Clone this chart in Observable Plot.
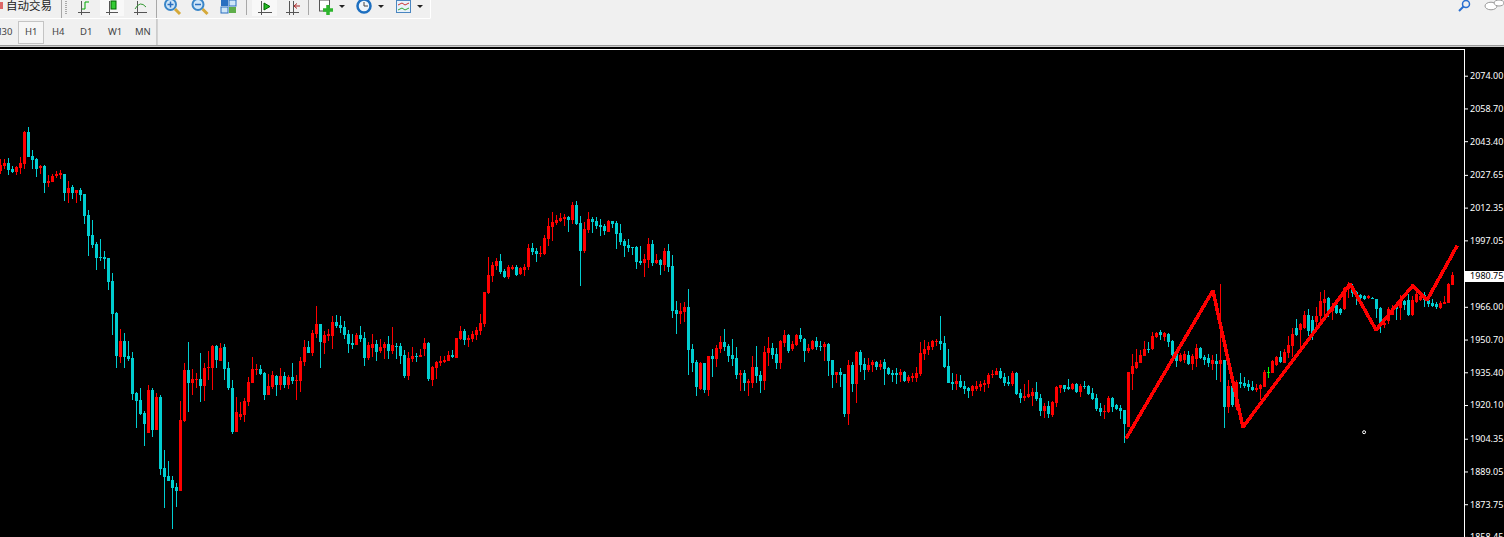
<!DOCTYPE html>
<html><head><meta charset="utf-8">
<script src="https://cdn.jsdelivr.net/npm/d3@7"></script>
<script src="https://cdn.jsdelivr.net/npm/@observablehq/plot@0.6"></script>
<style>
html,body{margin:0;padding:0;background:#000;width:1504px;height:537px;overflow:hidden}
#top{position:relative;width:1504px;height:47px;background:#f0f0f0;overflow:hidden;font-family:"Noto Sans",sans-serif;color:#444}
#top span{position:absolute;white-space:nowrap}
#top svg{position:absolute;left:0;top:0}
.tf{top:24px;font-size:9.5px;line-height:16px}
#chart svg{display:block}
</style></head><body>
<div id="top">
<svg width="1504" height="47" fill="none">
<path d="M0 18.5H430M430.5 0V18.5M157.5 19V45" stroke="#fff"/>
<path d="M61.5 0V18M156.5 0V18M246.5 0V15M308.5 0V15M157 19V45" stroke="#a8a8a8"/>
<path d="M66 1V15" stroke="#aaa" stroke-dasharray="1 1" stroke-width="2"/>
<rect x="18.5" y="21.5" width="25" height="22" fill="#f6f6f6" stroke="#c4c4c4"/>
<rect x="100" y="0" width="24" height="16" fill="#f8f8f8"/><rect x="252" y="0" width="25" height="16" fill="#f8f8f8"/>
<rect x="0" y="45" width="1504" height="1.4" fill="#9a9a9a"/>
<path d="M78 12.5H90M81.5 1V15M106 12.5H118M109.5 1V15M134 12.5H147M137.5 1V15M258 12.5H272M261.5 1V15M286 12.5H299M289.5 1V15M293.5 1V15" stroke="#555"/>
<path d="M82 9H85V2H89" stroke="#0a0"/><rect x="111" y="1" width="5" height="8" fill="#3c3" stroke="#060"/>
<path d="M135 9Q140 0 146 7" stroke="#393"/>
<path d="M264 3L270 6.5L264 10Z" fill="#2b2" stroke="#060"/><path d="M300 6H295M297 3.500L294 6L297 8.500" stroke="#a22"/>
<circle cx="170.500" cy="4.500" r="5.500" fill="#cfe6f8" stroke="#3a86c8" stroke-width="2"/><path d="M175 9L180 14" stroke="#d5a93a" stroke-width="3"/><path d="M167.500 4.500H173.500M170.500 1.500V7.500" stroke="#2a6fc0" stroke-width="1.500"/>
<circle cx="198" cy="4.500" r="5.500" fill="#cfe6f8" stroke="#3a86c8" stroke-width="2"/><path d="M202.500 9L207.500 14" stroke="#d5a93a" stroke-width="3"/><path d="M195 4.500H201" stroke="#2a6fc0" stroke-width="1.500"/>
<rect x="221" y="0" width="7" height="6" fill="#2a6fc0"/><rect x="229" y="0" width="7" height="6" fill="#cfe6f8" stroke="#2a6fc0"/><rect x="221" y="7" width="7" height="6" fill="#cfe6f8" stroke="#2a6fc0"/><rect x="229" y="7" width="7" height="6" fill="#5fae4a"/>
<rect x="319.500" y="0" width="10" height="11" fill="#fff" stroke="#555"/><path d="M328 5V15M323 10H333" stroke="#2db52d" stroke-width="3.500"/>
<path d="M339 5H345L342 8Z" fill="#222"/>
<circle cx="364" cy="6" r="6.500" fill="#eef5fb" stroke="#1d6fc0" stroke-width="2.500"/><path d="M364 2V6H368" stroke="#444"/>
<path d="M378 5H384L381 8Z" fill="#222"/>
<rect x="396.500" y="0.500" width="14" height="12" fill="#e8f1fa" stroke="#4a86c0"/><path d="M398 5L402 3L405 5L409 3" stroke="#c33"/><path d="M398 10L402 8L405 10L409 8" stroke="#3a3"/>
<path d="M417 5H423L420 8Z" fill="#222"/>
<circle cx="1466" cy="4" r="3.500" stroke="#2a6fd0" stroke-width="1.500"/><path d="M1463.500 6.500L1459 11" stroke="#2a6fd0" stroke-width="2"/>
<ellipse cx="1491" cy="6" rx="6" ry="3.800" fill="#fff" stroke="#999"/><ellipse cx="1499" cy="3" rx="5" ry="3" fill="#fff" stroke="#999"/>
<path d="M0 2H3V9H0" fill="#d66" />
</svg>
<span style="left:6px;top:-3px;font:11.500px/16px 'Noto Sans CJK SC',sans-serif;color:#1a1a1a">自动交易</span>
<span class="tf" style="left:-7px">M30</span><span class="tf" style="left:25px">H1</span><span class="tf" style="left:52px">H4</span><span class="tf" style="left:80px">D1</span><span class="tf" style="left:108px">W1</span><span class="tf" style="left:135px">MN</span>
</div>
<div id="chart"></div>
<script>
const high=[2034.6,2034.6,2035.4,2031.5,2031.5,2035.7,2047.9,2049.7,2039.0,2035.2,
2032.0,2032.0,2027.3,2027.8,2029.2,2029.6,2027.8,2024.5,2022.6,2020.3,
2021.2,2018.4,2010.9,2006.3,1996.0,1997.4,1991.8,1988.5,1981.5,1963.3,
1955.3,1953.4,1949.7,1944.6,1925.9,1927.7,1917.0,1929.1,1927.7,1925.4,
1924.5,1898.8,1893.6,1886.6,1883.3,1921.7,1939.4,1949.2,1936.6,1934.7,
1944.1,1939.4,1945.0,1947.8,1947.8,1948.8,1948.3,1939.9,1931.5,1923.5,
1921.2,1923.1,1932.9,1942.2,1939.0,1938.5,1935.2,1934.3,1935.7,1933.8,
1937.1,1935.2,1933.8,1939.4,1933.8,1942.2,1950.2,1949.7,1954.8,1966.0,
1957.6,1954.4,1955.3,1961.4,1961.8,1961.4,1959.0,1954.8,1952.9,1953.4,
1956.7,1953.9,1949.2,1952.9,1950.2,1950.6,1949.2,1952.0,1956.2,1948.7,
1948.7,1945.5,1944.5,1946.9,1944.1,1946.0,1951.1,1949.2,1938.0,1940.3,
1942.7,1942.7,1945.0,1945.5,1951.1,1956.7,1955.3,1952.5,1954.4,1956.2,
1962.3,1972.6,1989.0,1986.6,1988.5,1990.3,1983.3,1985.2,1985.2,1985.2,
1984.3,1985.7,1995.0,1995.5,1993.2,1994.1,1999.2,2007.2,2010.0,2008.6,
2009.5,2009.0,2008.1,2014.6,2015.1,2008.1,2005.3,2010.0,2007.6,2007.6,
2006.7,2004.4,2006.2,2005.8,2005.8,2004.4,1997.4,1997.4,1993.6,1994.1,
1994.1,1990.3,1997.8,1996.9,1990.3,1988.0,1993.2,1995.0,1989.9,1968.4,
1967.4,1967.9,1974.0,1948.3,1940.8,1939.9,1939.4,1942.7,1946.0,1947.8,
1952.0,1955.3,1948.3,1950.6,1946.9,1936.1,1936.1,1931.9,1942.7,1947.3,
1935.6,1947.3,1951.5,1948.7,1946.4,1950.2,1954.8,1953.0,1949.7,1953.0,
1955.8,1951.1,1948.3,1950.2,1951.6,1949.7,1949.2,1948.7,1940.8,1935.2,
1937.1,1934.3,1940.8,1939.9,1945.0,1945.5,1941.7,1941.7,1940.8,1940.3,
1940.8,1941.3,1937.5,1936.1,1937.1,1936.6,1935.7,1933.8,1934.7,1937.5,
1949.2,1950.2,1949.2,1950.2,1950.6,1961.4,1952.0,1945.9,1934.7,1934.3,
1933.8,1931.0,1928.2,1929.1,1931.0,1931.0,1931.5,1934.7,1936.1,1937.1,
1937.1,1934.7,1933.3,1935.7,1935.2,1927.3,1929.6,1931.5,1927.7,1930.5,
1924.9,1920.7,1921.6,1921.6,1928.7,1929.1,1929.1,1931.9,1930.1,1930.1,
1929.6,1931.0,1929.1,1927.7,1924.9,1920.7,1919.8,1924.0,1923.5,1920.2,
1919.8,1917.4,1935.2,1943.6,1945.9,1945.5,1949.7,1949.2,1953.9,1953.9,
1954.8,1953.9,1953.4,1950.2,1944.5,1944.1,1945.0,1945.0,1943.6,1948.3,
1946.9,1943.1,1943.6,1943.1,1943.6,1976.3,1940.8,1931.5,1929.1,1931.5,
1934.7,1932.9,1931.5,1931.0,1929.6,1929.6,1936.1,1937.5,1940.8,1942.7,
1945.0,1945.9,1952.0,1955.8,1960.0,1958.1,1963.7,1964.6,1961.4,1965.6,
1972.6,1973.5,1970.3,1967.4,1967.0,1965.1,1974.9,1977.3,1976.3,1973.1,
1971.7,1971.2,1971.2,1970.3,1969.3,1965.6,1959.5,1965.6,1966.5,1967.0,
1971.2,1968.8,1971.7,1970.7,1972.6,1971.2,1972.6,1969.8,1969.3,1967.9,
1968.4,1970.7,1976.8,1981.9];
const bodyTop=[2032.0,2032.9,2032.9,2030.1,2031.0,2032.9,2047.4,2047.4,2036.2,2034.8,
2031.5,2031.5,2024.5,2026.8,2027.8,2028.2,2027.8,2021.2,2021.7,2020.3,
2020.3,2018.4,2008.6,1999.2,1995.0,1989.0,1989.0,1988.5,1977.7,1962.8,
1949.7,1949.7,1942.7,1941.8,1925.4,1922.1,1916.1,1926.8,1926.8,1923.5,
1923.5,1890.3,1886.6,1884.7,1881.5,1912.8,1936.2,1936.2,1931.9,1931.9,
1931.9,1937.1,1937.6,1947.4,1947.4,1946.4,1946.9,1937.1,1927.7,1916.5,
1915.6,1921.7,1930.5,1936.6,1936.6,1936.6,1934.7,1928.7,1933.8,1933.3,
1933.3,1933.3,1932.9,1932.9,1931.5,1940.3,1946.9,1946.9,1953.4,1957.6,
1957.6,1952.5,1952.9,1958.6,1958.6,1957.2,1956.2,1952.9,1948.7,1952.5,
1952.5,1951.1,1947.8,1948.3,1948.3,1946.9,1948.3,1948.3,1947.8,1947.3,
1947.3,1943.1,1941.7,1942.7,1942.7,1943.1,1948.7,1948.7,1937.5,1939.9,
1940.3,1940.8,1943.1,1943.1,1951.1,1954.4,1954.4,1951.1,1952.9,1954.8,
1958.1,1972.6,1980.5,1985.2,1987.1,1987.1,1982.4,1984.3,1984.3,1984.3,
1983.8,1984.3,1993.2,1993.2,1991.8,1990.8,1997.8,2003.4,2005.3,2006.2,
2007.2,2007.6,2007.6,2013.3,2013.3,2004.8,2002.0,2006.7,2006.7,2005.8,
2003.9,2003.4,2005.8,2005.8,2004.8,2000.2,1996.4,1994.6,1993.6,1993.6,
1987.1,1988.0,1995.0,1995.0,1987.5,1987.5,1991.8,1991.8,1984.7,1964.2,
1963.7,1965.6,1965.6,1946.0,1939.9,1939.4,1939.4,1942.7,1942.7,1946.4,
1949.2,1949.2,1947.3,1943.1,1941.7,1934.7,1934.7,1931.0,1937.5,1937.5,
1933.8,1944.5,1946.4,1946.4,1943.6,1949.7,1952.5,1952.5,1948.3,1952.5,
1952.5,1950.6,1946.4,1949.7,1949.7,1947.4,1948.3,1948.3,1940.8,1935.2,
1935.2,1934.3,1938.5,1938.5,1944.5,1944.5,1938.9,1938.5,1939.9,1939.9,
1938.9,1939.9,1937.1,1934.7,1934.7,1935.2,1935.2,1932.9,1933.3,1934.7,
1944.1,1945.9,1947.4,1949.7,1949.7,1949.7,1948.8,1938.0,1930.5,1931.0,
1931.0,1928.7,1927.7,1928.7,1928.7,1929.6,1930.1,1933.8,1934.3,1935.7,
1935.7,1932.9,1930.5,1934.7,1934.7,1925.4,1924.0,1924.9,1925.9,1925.9,
1923.0,1919.3,1919.3,1921.2,1928.2,1929.1,1929.1,1928.2,1929.6,1929.6,
1928.7,1928.7,1928.7,1925.4,1923.0,1918.4,1917.0,1923.0,1923.0,1919.8,
1918.4,1917.4,1935.2,1938.0,1939.9,1943.1,1946.0,1946.0,1952.0,1953.4,
1953.9,1953.4,1953.0,1949.7,1943.6,1943.1,1943.6,1943.1,1942.7,1946.4,
1946.4,1942.2,1941.7,1940.8,1940.3,1940.8,1940.8,1928.7,1928.7,1930.5,
1930.5,1930.1,1929.6,1928.2,1927.7,1929.1,1935.2,1935.2,1940.3,1942.2,
1942.2,1944.5,1947.8,1953.0,1955.8,1957.6,1961.8,1961.8,1959.5,1961.4,
1968.4,1969.3,1969.8,1965.6,1966.5,1964.6,1974.5,1975.4,1974.5,1972.6,
1971.2,1970.7,1970.7,1969.8,1969.3,1965.1,1958.1,1964.6,1965.1,1966.5,
1967.9,1968.4,1968.8,1968.8,1971.7,1970.7,1971.2,1968.8,1967.4,1967.0,
1967.4,1967.9,1976.3,1980.5];
const bodyBottom=[2029.2,2031.7,2029.6,2028.7,2028.9,2030.6,2032.4,2035.7,2034.3,2030.1,
2030.6,2023.6,2023.6,2024.0,2026.8,2027.3,2018.9,2018.9,2018.9,2018.9,
2017.9,2008.1,1998.8,1994.6,1988.5,1988.5,1988.0,1977.3,1962.3,1942.7,
1942.2,1942.2,1941.3,1924.9,1921.7,1915.6,1910.9,1906.7,1908.1,1908.1,
1889.9,1886.1,1884.3,1881.0,1879.6,1879.6,1912.3,1930.1,1930.1,1931.5,
1928.7,1928.7,1937.1,1937.1,1940.8,1940.4,1936.6,1927.7,1907.2,1907.2,
1914.2,1915.1,1921.2,1930.1,1936.2,1934.3,1924.4,1924.4,1928.2,1929.1,
1929.1,1929.1,1929.1,1931.0,1931.0,1931.0,1939.9,1944.1,1944.1,1952.9,
1949.2,1948.7,1952.0,1952.0,1956.7,1955.8,1952.5,1948.3,1947.8,1947.8,
1950.6,1941.7,1941.7,1946.4,1944.5,1945.0,1946.4,1945.0,1945.0,1946.9,
1942.7,1933.3,1933.3,1941.3,1942.2,1942.2,1946.0,1932.0,1931.5,1937.1,
1939.4,1939.9,1940.3,1942.2,1941.7,1950.6,1950.2,1950.2,1950.6,1952.5,
1954.4,1957.6,1972.1,1980.1,1984.7,1981.9,1979.6,1979.6,1983.3,1980.5,
1981.0,1982.9,1984.3,1991.3,1990.3,1990.3,1990.3,1997.4,2003.0,2004.8,
2005.8,2006.7,2006.2,2006.2,2004.4,1991.8,1991.8,2001.6,2005.3,2003.4,
2003.0,2001.1,2000.6,2004.4,1999.7,1996.0,1994.1,1993.2,1993.2,1986.6,
1986.2,1986.2,1987.5,1986.2,1986.2,1985.2,1985.2,1984.3,1963.7,1962.3,
1962.3,1963.2,1945.5,1939.4,1928.2,1927.2,1926.8,1926.8,1941.3,1941.3,
1946.0,1946.9,1942.7,1941.3,1933.8,1933.8,1930.0,1930.0,1930.0,1933.3,
1931.0,1931.0,1944.1,1943.1,1939.4,1939.4,1948.8,1945.0,1945.9,1947.8,
1950.6,1945.0,1945.0,1945.9,1946.9,1946.9,1946.9,1940.3,1933.8,1933.8,
1933.8,1915.6,1915.6,1929.6,1929.6,1938.5,1936.1,1936.1,1938.5,1937.5,
1937.5,1936.6,1934.3,1933.8,1933.8,1933.8,1931.0,1931.0,1932.4,1932.4,
1934.3,1943.6,1945.5,1946.9,1949.2,1948.3,1937.5,1930.1,1929.6,1929.6,
1928.2,1927.3,1926.3,1926.3,1927.3,1928.2,1929.1,1929.6,1933.8,1933.8,
1932.4,1930.1,1929.6,1929.6,1924.9,1923.0,1923.0,1923.5,1924.0,1922.6,
1917.0,1917.0,1915.6,1915.1,1920.7,1927.7,1927.3,1927.3,1927.3,1925.9,
1925.9,1928.2,1924.9,1922.6,1917.9,1916.5,1916.5,1916.5,1918.8,1917.9,
1917.0,1910.9,1909.6,1934.3,1937.1,1939.4,1942.7,1945.5,1946.0,1951.6,
1952.5,1951.6,1949.2,1943.1,1940.3,1940.3,1940.8,1938.9,1938.9,1941.3,
1941.7,1940.8,1939.4,1938.9,1938.9,1938.9,1918.8,1918.8,1919.8,1918.8,
1929.6,1928.7,1928.2,1926.8,1926.8,1927.3,1928.2,1934.7,1934.7,1938.5,
1939.9,1939.4,1944.1,1947.3,1952.5,1954.8,1955.8,1954.4,1953.4,1958.6,
1961.4,1967.4,1963.7,1963.7,1962.8,1962.8,1964.6,1974.0,1972.1,1971.2,
1969.8,1969.3,1969.8,1969.3,1964.6,1956.7,1957.2,1959.0,1961.8,1964.6,
1965.1,1966.5,1961.8,1961.8,1967.9,1968.8,1968.8,1967.0,1966.0,1965.6,
1965.1,1967.0,1967.4,1975.9];
const low=[2027.8,2030.1,2027.3,2028.1,2027.3,2027.8,2030.1,2035.7,2030.1,2026.4,
2027.8,2018.9,2021.7,2024.0,2025.9,2025.4,2015.1,2014.2,2016.1,2014.2,
2015.1,2004.4,1989.4,1993.2,1982.9,1987.1,1983.4,1973.5,1952.5,1937.1,
1939.4,1937.1,1940.4,1922.1,1909.0,1915.1,1900.6,1906.7,1904.8,1908.1,
1887.1,1871.6,1884.3,1861.8,1872.1,1879.6,1911.8,1916.5,1924.5,1927.7,
1921.2,1921.7,1931.5,1926.8,1937.1,1940.4,1931.5,1926.8,1906.2,1907.2,
1912.8,1911.8,1919.3,1930.1,1933.8,1933.8,1922.1,1924.4,1927.2,1924.0,
1926.8,1927.7,1927.2,1929.6,1922.1,1925.9,1938.0,1944.1,1942.7,1951.1,
1937.1,1943.6,1949.7,1946.0,1955.8,1953.4,1950.6,1944.1,1946.0,1947.8,
1949.2,1938.0,1940.8,1942.2,1940.3,1944.1,1941.3,1941.3,1943.6,1941.3,
1938.9,1932.4,1931.5,1939.9,1939.9,1942.2,1942.7,1931.0,1928.7,1932.0,
1938.0,1939.4,1940.3,1941.7,1941.7,1950.2,1947.8,1946.9,1949.2,1950.2,
1952.5,1956.2,1971.7,1977.3,1982.9,1981.0,1979.1,1978.7,1982.9,1980.1,
1980.5,1980.1,1982.9,1989.9,1986.6,1989.0,1989.9,1994.1,1996.4,2003.9,
2005.3,2003.4,2000.6,2004.4,2003.9,1975.4,1990.8,2000.2,2000.2,2002.0,
1998.8,1999.2,2000.6,2002.5,1992.7,1994.6,1989.0,1991.3,1989.9,1983.3,
1985.2,1979.6,1983.8,1984.7,1985.7,1980.5,1982.4,1982.0,1960.4,1952.9,
1957.6,1958.6,1933.8,1935.2,1924.0,1926.8,1925.4,1924.0,1932.9,1937.5,
1944.1,1945.0,1939.9,1938.0,1932.0,1926.3,1926.3,1924.0,1927.7,1930.0,
1925.4,1926.8,1938.0,1941.3,1936.6,1936.6,1946.9,1944.1,1945.0,1947.4,
1949.2,1939.9,1944.1,1945.5,1945.5,1945.0,1940.3,1933.3,1927.7,1930.1,
1928.2,1914.2,1910.4,1925.9,1920.7,1935.2,1931.5,1935.2,1935.2,1936.1,
1936.1,1929.1,1933.8,1930.5,1929.6,1930.5,1930.5,1930.1,1930.5,1930.5,
1933.3,1940.8,1943.2,1945.5,1947.4,1945.5,1937.1,1930.1,1926.8,1926.8,
1927.7,1924.9,1923.0,1924.0,1926.3,1926.3,1925.9,1927.7,1932.4,1933.8,
1931.9,1928.7,1928.7,1928.7,1924.5,1920.7,1921.6,1923.0,1919.3,1921.6,
1914.6,1913.7,1913.7,1914.2,1918.8,1925.4,1925.9,1926.8,1926.8,1925.4,
1923.5,1927.3,1924.5,1922.1,1917.0,1914.6,1913.2,1916.0,1916.5,1917.4,
1913.2,1902.0,1909.6,1926.8,1936.6,1939.4,1942.7,1944.1,1945.5,1951.1,
1950.2,1949.7,1946.9,1942.7,1937.5,1939.9,1939.4,1938.5,1936.1,1937.5,
1941.3,1938.5,1937.5,1936.1,1931.5,1930.5,1909.0,1916.0,1918.8,1917.4,
1927.7,1927.7,1926.3,1926.3,1925.9,1922.1,1928.2,1932.4,1934.7,1938.0,
1939.4,1939.4,1941.7,1942.2,1952.0,1946.9,1955.3,1952.0,1950.2,1955.3,
1958.1,1961.8,1960.9,1959.5,1962.3,1961.8,1964.2,1969.8,1970.2,1966.5,
1968.8,1968.8,1969.3,1969.3,1960.4,1953.4,1955.8,1957.6,1961.8,1959.5,
1959.5,1964.2,1961.4,1961.4,1967.4,1968.4,1965.6,1965.6,1965.6,1964.6,
1964.6,1967.0,1967.4,1975.9];
const bullishBars=[0,1,4,5,6,10,12,13,14,15,17,19,30,37,39,45,46,48,49,51,52,53,55,59,60,61,62,63,64,67,68,70,72,74,75,76,78,79,81,82,83,89,92,93,95,96,98,102,103,105,106,108,109,110,111,112,114,115,117,118,119,120,121,122,123,124,127,128,130,131,132,135,136,137,138,139,140,141,143,146,147,152,161,162,164,166,170,171,175,177,179,180,185,187,188,191,192,195,196,198,199,202,203,206,209,212,214,217,218,220,225,227,228,229,230,231,232,233,234,239,243,244,245,246,247,248,249,253,256,257,258,261,263,264,265,268,270,276,277,282,283,284,285,286,288,289,291,295,296,298,299,303,305,307,309,314,315,316,318,319,321,322,323,325,326,329,330,331,333,336,337,342,346,347,348,350,353,354,355,360,361,362,363];
const dojiBars=[317];
const zigzagBar=[281.4,303.1,310.6,337.4,343.9,353.1,356.6,364.2];
const zigzagPrice=[1904.4,1973.5,1909.7,1976.6,1955.1,1975.9,1968.9,1994.6];
const priceTicks=[2074.00,2058.70,2043.40,2027.65,2012.35,1997.05,1966.00,1950.70,1935.40,1920.10,1904.35,1889.05,1873.75,1858.45];
const currentPrice=1980.75;
const marker=[{bar:340.9,price:1907.3}];

const BULL="#ff0000",BEAR="#00ced1",DOJI="#00ff00";
const bullSet=new Set(bullishBars),dojiSet=new Set(dojiBars);
const candles=high.map((h,i)=>({i,h,t:bodyTop[i],b:bodyBottom[i],l:low[i],
  c:dojiSet.has(i)?DOJI:bullSet.has(i)?BULL:BEAR}));
const zigzag=zigzagBar.map((b,k)=>({b,p:zigzagPrice[k]}));
const FONT="'Noto Sans',sans-serif";

const chart=Plot.plot({
  width:1504,height:490,
  marginTop:2,marginBottom:0,marginLeft:0,marginRight:40,
  style:{background:"#000",display:"block"},
  x:{domain:[0,366],axis:null},
  y:{domain:[1858.1,2086.15],axis:null},
  marks:[
    Plot.ruleX([366],{stroke:"#fff"}),
    Plot.ruleY([2086.15],{x1:0,x2:366,stroke:"#fff"}),
    Plot.axisY({anchor:"right",ticks:priceTicks,tickFormat:d=>d.toFixed(2),tickSize:3,tickPadding:2.5,
      stroke:"#fff",color:"#fff",fontSize:9,fontFamily:FONT,label:null,dy:0.7}),
    Plot.ruleX(candles,{x:"i",y1:"l",y2:"h",stroke:"c",strokeWidth:1,shapeRendering:"crispEdges"}),
    Plot.ruleX(candles,{x:"i",y1:"b",y2:"t",stroke:"c",strokeWidth:3,shapeRendering:"crispEdges"}),
    Plot.line(zigzag,{x:"b",y:"p",stroke:BULL,strokeWidth:3.5,strokeLinejoin:"miter",strokeLinecap:"butt",shapeRendering:"crispEdges",curve:"linear"}),
    Plot.dot(marker,{x:"bar",y:"price",r:1.5,stroke:"#fff",strokeWidth:1,fill:"#000"}),
    Plot.ruleY([currentPrice],{x1:366.25,x2:376,stroke:"#fff",strokeWidth:11,dy:1,shapeRendering:"crispEdges"}),
    Plot.text([currentPrice],{x:367.4,y:d=>d,text:d=>d.toFixed(2),textAnchor:"start",fill:"#000",fontSize:9,fontFamily:FONT,dy:1})
  ]
});
document.getElementById("chart").appendChild(chart);
</script>
</body></html>
